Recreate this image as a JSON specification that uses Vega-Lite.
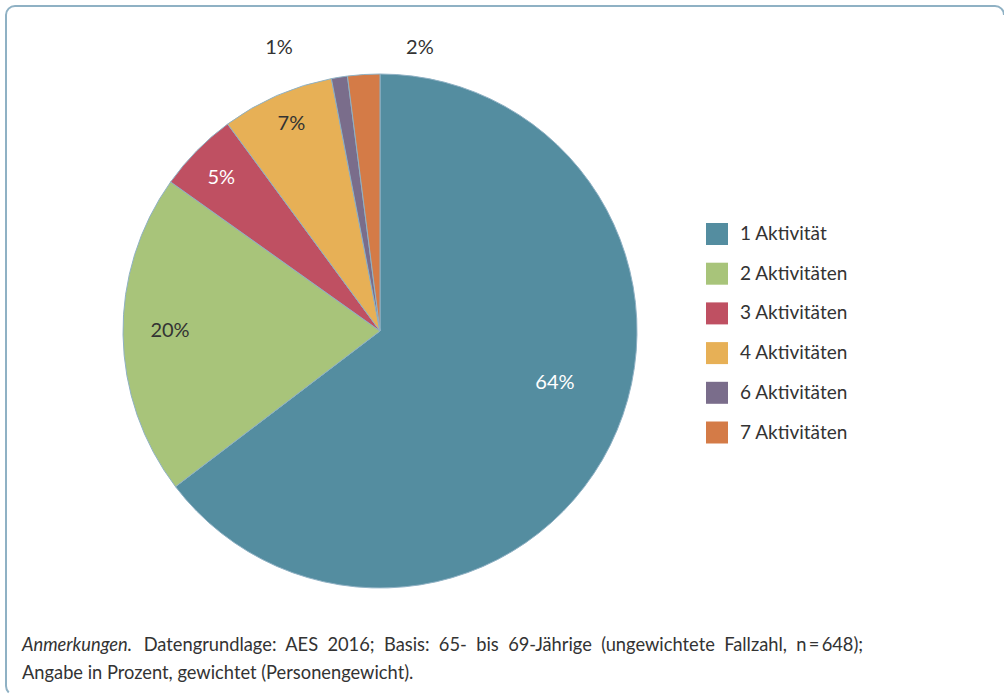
{
  "$schema": "https://vega.github.io/schema/vega-lite/v6.json",
  "width": 998,
  "height": 689,
  "autosize": {"type": "none"},
  "padding": {"left": 6, "top": 6, "right": 0, "bottom": 0},
  "background": "white",
  "config": {
    "view": {"stroke": null},
    "font": "Lato"
  },
  "datasets": {
    "shares": [
      {"cat": "1 Aktivität", "share": 0.64},
      {"cat": "2 Aktivitäten", "share": 0.20},
      {"cat": "3 Aktivitäten", "share": 0.05},
      {"cat": "4 Aktivitäten", "share": 0.07},
      {"cat": "6 Aktivitäten", "share": 0.01},
      {"cat": "7 Aktivitäten", "share": 0.02}
    ],
    "frame": [{"name": "frame"}]
  },
  "title": {
    "text": "Anmerkungen.",
    "fontStyle": "italic",
    "fontWeight": "normal",
    "fontSize": 18.3,
    "font": "Lato",
    "color": "#333333",
    "orient": "bottom",
    "anchor": "start",
    "frame": "group",
    "offset": -59,
    "dx": 16,
    "subtitle": [
      "\u200b\u00a0\u00a0\u00a0\u00a0\u00a0\u00a0\u00a0\u00a0\u00a0\u00a0\u00a0\u00a0\u00a0\u00a0\u00a0\u00a0\u00a0\u00a0\u00a0\u00a0\u00a0\u00a0\u00a0\u00a0\u00a0\u00a0Datengrundlage: \u00a0AES \u00a02016; \u00a0Basis: \u00a065- \u00a0bis \u00a069-Jährige \u00a0(ungewichtete \u00a0Fallzahl, \u00a0n\u2009=\u2009648);",
      "Angabe in Prozent, gewichtet (Personengewicht)."
    ],
    "subtitleFont": "Lato",
    "subtitleFontSize": 18.3,
    "subtitleFontStyle": "normal",
    "subtitleColor": "#333333",
    "subtitlePadding": -18.3,
    "subtitleLineHeight": 27.5
  },
  "layer": [
    {
      "data": {"name": "frame"},
      "mark": {"type": "rect", "fill": null, "fillOpacity": 0, "stroke": "#8fb1c4", "strokeWidth": 2, "cornerRadius": 9, "strokeDash": [994, 1672, 700, 10]},
      "encoding": {}
    },
    {
      "data": {"name": "shares"},
      "layer": [
        {
          "mark": {"type": "arc", "x": 374, "y": 325, "radius": 257, "stroke": "#8fb1c4", "strokeWidth": 1},
          "encoding": {
            "theta": {"field": "share", "type": "quantitative", "stack": true},
            "order": {"field": "cat", "type": "ordinal"},
            "color": {
              "field": "cat",
              "type": "nominal",
              "scale": {"range": ["#548DA0", "#A8C47A", "#BF5062", "#E7B056", "#7A6D8B", "#D47B47"]},
              "legend": {
                "title": null,
                "orient": "none",
                "legendX": 700,
                "legendY": 217,
                "symbolType": "square",
                "symbolSize": 484,
                "symbolStrokeWidth": 0,
                "symbolOpacity": 1,
                "labelFontSize": 19,
                "labelFont": "Lato",
                "labelColor": "#333333",
                "rowPadding": 17.7,
                "labelOffset": 12,
                "padding": 0
              }
            }
          }
        },
        {
          "mark": {"type": "text", "x": 374, "y": 325, "radius": 210, "dy": -3, "fontSize": 20, "fill": "#333333"},
          "encoding": {
            "theta": {"field": "share", "type": "quantitative", "stack": true},
            "order": {"field": "cat", "type": "ordinal"},
            "text": {"condition": {"test": "datum.cat == '2 Aktivitäten'", "field": "share", "type": "quantitative", "format": ".0%"}, "value": ""}
          }
        },
        {
          "mark": {"type": "text", "x": 374, "y": 325, "radius": 226, "dx": 2, "fontSize": 20, "fill": "#333333"},
          "encoding": {
            "theta": {"field": "share", "type": "quantitative", "stack": true},
            "order": {"field": "cat", "type": "ordinal"},
            "text": {"condition": {"test": "datum.cat == '4 Aktivitäten'", "field": "share", "type": "quantitative", "format": ".0%"}, "value": ""}
          }
        },
        {
          "mark": {"type": "text", "x": 374, "y": 325, "radius": 220, "dx": -2, "dy": 1, "fontSize": 20, "fill": "white"},
          "encoding": {
            "theta": {"field": "share", "type": "quantitative", "stack": true},
            "order": {"field": "cat", "type": "ordinal"},
            "text": {"condition": {"test": "datum.cat == '3 Aktivitäten'", "field": "share", "type": "quantitative", "format": ".0%"}, "value": ""}
          }
        },
        {
          "mark": {"type": "text", "x": 374, "y": 325, "radius": 183, "dx": 11, "dy": -29, "fontSize": 20, "fill": "white"},
          "encoding": {
            "theta": {"field": "share", "type": "quantitative", "stack": true},
            "order": {"field": "cat", "type": "ordinal"},
            "text": {"condition": {"test": "datum.cat == '1 Aktivität'", "field": "share", "type": "quantitative", "format": ".0%"}, "value": ""}
          }
        },
        {
          "mark": {"type": "text", "x": 374, "y": 325, "radius": 285, "dx": -56, "dy": -2, "fontSize": 20, "fill": "#333333"},
          "encoding": {
            "theta": {"field": "share", "type": "quantitative", "stack": true},
            "order": {"field": "cat", "type": "ordinal"},
            "text": {"condition": {"test": "datum.cat == '6 Aktivitäten'", "field": "share", "type": "quantitative", "format": ".0%"}, "value": ""}
          }
        },
        {
          "mark": {"type": "text", "x": 374, "y": 325, "radius": 285, "dx": 58, "dy": 1, "fontSize": 20, "fill": "#333333"},
          "encoding": {
            "theta": {"field": "share", "type": "quantitative", "stack": true},
            "order": {"field": "cat", "type": "ordinal"},
            "text": {"condition": {"test": "datum.cat == '7 Aktivitäten'", "field": "share", "type": "quantitative", "format": ".0%"}, "value": ""}
          }
        }
      ]
    }
  ]
}
